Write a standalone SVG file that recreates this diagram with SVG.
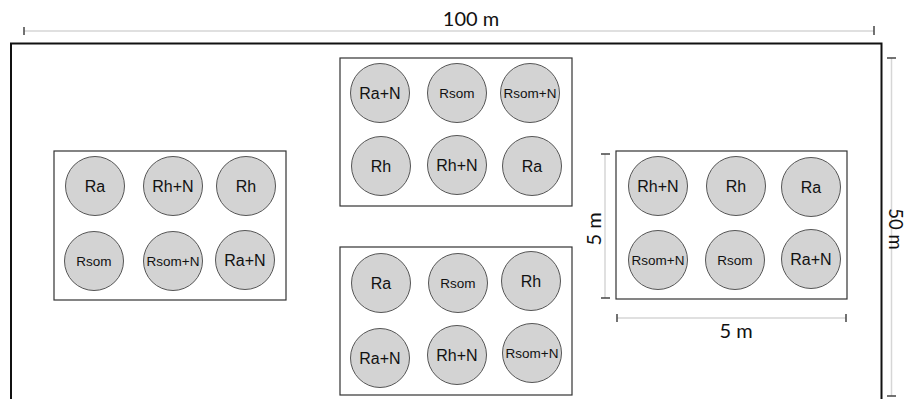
<svg xmlns="http://www.w3.org/2000/svg" width="908" height="399" viewBox="0 0 908 399">
<style>
.plot{fill:#fff;stroke:#333;stroke-width:1.2}
.c{fill:#d3d3d3;stroke:#555;stroke-width:1}
.t{font-family:"Liberation Sans",Arial,sans-serif;font-size:16px;fill:#111;text-anchor:middle;dominant-baseline:central}
.s{font-size:13.5px}
.dim{stroke:#d6d6d6;stroke-width:1.5;fill:none}
.tick{stroke:#444;stroke-width:1.5}
.dt{font-family:"Lato","Liberation Sans",sans-serif;font-size:20px;fill:#111;text-anchor:middle}
</style>
<rect width="908" height="399" fill="#fff"/>
<rect id="field" x="11" y="43.5" width="870.5" height="370" fill="none" stroke="#111" stroke-width="2"/>
<g id="dimensions">
<line class="dim" x1="24" y1="31" x2="874" y2="31"/>
<line class="tick" x1="24" y1="27" x2="24" y2="35"/>
<line class="tick" x1="874" y1="26" x2="874" y2="35"/>
<text class="dt" x="471" y="26">100 m</text>
<line class="dim" x1="891.5" y1="58" x2="891.5" y2="396"/>
<line class="tick" x1="887" y1="58" x2="896" y2="58"/>
<line class="tick" x1="887" y1="396" x2="896" y2="396"/>
<text class="dt" style="font-size:18.5px" transform="translate(888.5,229) rotate(90)">50 m</text>
<line class="dim" x1="605" y1="154" x2="605" y2="298"/>
<line class="tick" x1="601" y1="154" x2="610" y2="154"/>
<line class="tick" x1="601" y1="298" x2="610" y2="298"/>
<text class="dt" transform="translate(601,229) rotate(-90)">5 m</text>
<line class="dim" x1="617" y1="318" x2="846" y2="318"/>
<line class="tick" x1="617" y1="314" x2="617" y2="322"/>
<line class="tick" x1="846" y1="314" x2="846" y2="322"/>
<text class="dt" x="736" y="338">5 m</text>
</g>
<g id="block-left">
<rect class="plot" x="54" y="151" width="232" height="149"/>
<circle class="c" cx="95" cy="186" r="29.5"/><text class="t" x="95" y="186">Ra</text>
<circle class="c" cx="173" cy="186" r="29.5"/><text class="t" x="173" y="186">Rh+N</text>
<circle class="c" cx="246" cy="186" r="29.5"/><text class="t" x="246" y="186">Rh</text>
<circle class="c" cx="94" cy="261" r="29.5"/><text class="t s" x="94" y="261">Rsom</text>
<circle class="c" cx="173" cy="261" r="29.5"/><text class="t s" x="173" y="261">Rsom+N</text>
<circle class="c" cx="245" cy="260" r="29.5"/><text class="t" x="245" y="260">Ra+N</text>
</g>
<g id="block-top">
<rect class="plot" x="340" y="58" width="232" height="148"/>
<circle class="c" cx="380" cy="93" r="29.5"/><text class="t" x="380" y="93">Ra+N</text>
<circle class="c" cx="457" cy="93" r="29.5"/><text class="t s" x="457" y="93">Rsom</text>
<circle class="c" cx="530" cy="93" r="29.5"/><text class="t s" x="530" y="93">Rsom+N</text>
<circle class="c" cx="381" cy="166" r="29.5"/><text class="t" x="381" y="166">Rh</text>
<circle class="c" cx="457" cy="165" r="29.5"/><text class="t" x="457" y="165">Rh+N</text>
<circle class="c" cx="532" cy="166" r="29.5"/><text class="t" x="532" y="166">Ra</text>
</g>
<g id="block-bottom">
<rect class="plot" x="340" y="247" width="232" height="148"/>
<circle class="c" cx="381" cy="283" r="29.5"/><text class="t" x="381" y="283">Ra</text>
<circle class="c" cx="458" cy="283" r="29.5"/><text class="t s" x="458" y="283">Rsom</text>
<circle class="c" cx="531" cy="281" r="29.5"/><text class="t" x="531" y="281">Rh</text>
<circle class="c" cx="380" cy="358" r="29.5"/><text class="t" x="380" y="358">Ra+N</text>
<circle class="c" cx="457" cy="355" r="29.5"/><text class="t" x="457" y="355">Rh+N</text>
<circle class="c" cx="532" cy="353" r="29.5"/><text class="t s" x="532" y="353">Rsom+N</text>
</g>
<g id="block-right">
<rect class="plot" x="616" y="151" width="231" height="148"/>
<circle class="c" cx="658" cy="186" r="29.5"/><text class="t" x="658" y="186">Rh+N</text>
<circle class="c" cx="736" cy="186" r="29.5"/><text class="t" x="736" y="186">Rh</text>
<circle class="c" cx="811" cy="187" r="29.5"/><text class="t" x="811" y="187">Ra</text>
<circle class="c" cx="658" cy="260" r="29.5"/><text class="t s" x="658" y="260">Rsom+N</text>
<circle class="c" cx="735" cy="260" r="29.5"/><text class="t s" x="735" y="260">Rsom</text>
<circle class="c" cx="811" cy="259" r="29.5"/><text class="t" x="811" y="259">Ra+N</text>
</g>
</svg>
